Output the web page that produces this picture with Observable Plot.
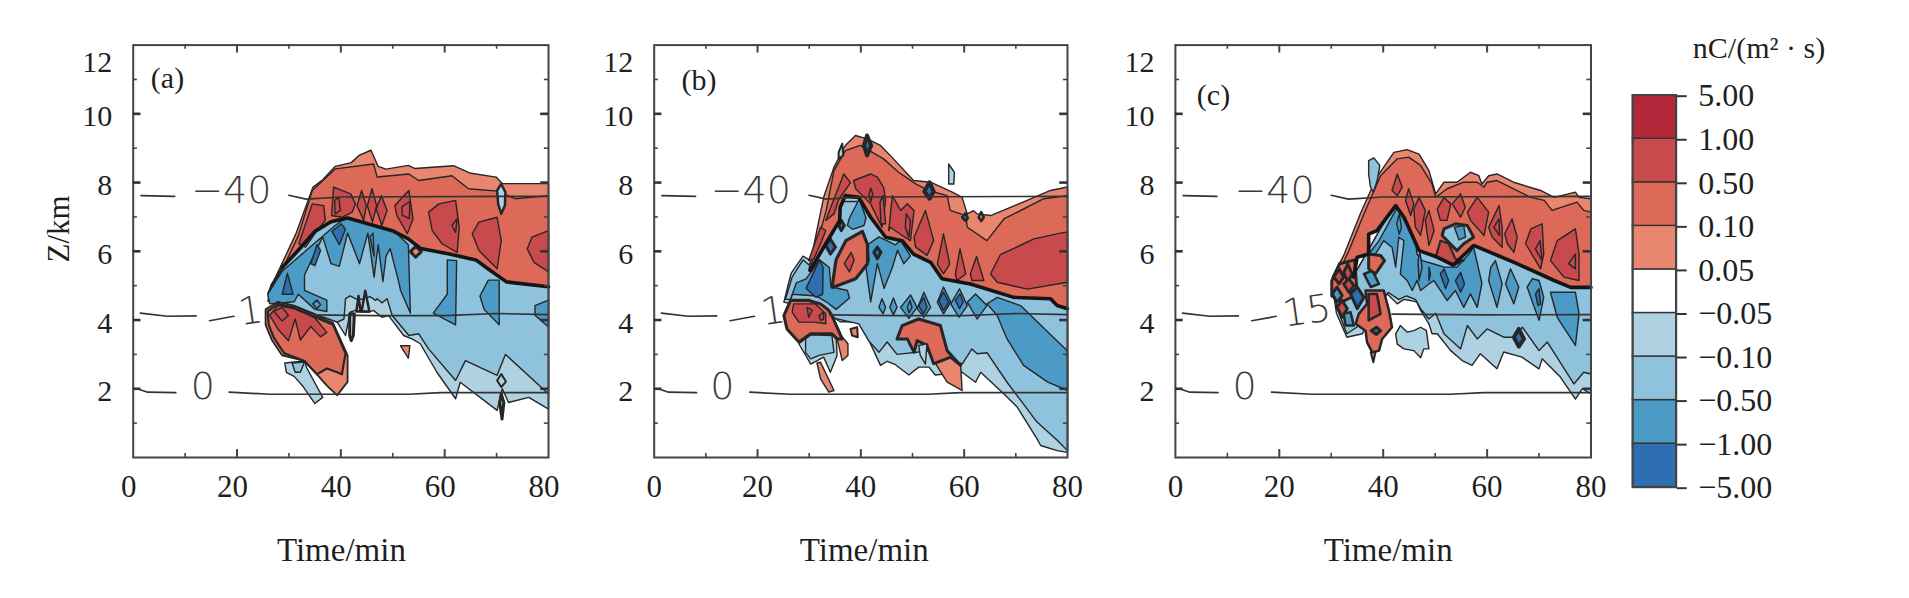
<!DOCTYPE html>
<html><head><meta charset="utf-8">
<script src="https://cdn.jsdelivr.net/npm/d3@7"></script>
<script src="https://cdn.jsdelivr.net/npm/@observablehq/plot@0.6"></script>
<style>html,body{margin:0;padding:0;background:#fff}#root{position:relative;width:1909px;height:598px;overflow:hidden}svg{position:absolute;top:0;background:transparent}</style>
</head><body><div id="root"></div>
<script>
// colour classes
const thresholds=[-5,-1,-0.5,-0.1,-0.05,0.05,0.1,0.5,1,5];
const classColors=["#2F6EB1","#2F6EB1","#4B9BC6","#8FC2DD","#AFD2E3","#FFFFFF","#E98670","#DD6A58","#C84A4D","#B2283A","#B2283A"];
const legendLabels=["−5.00","−1.00","−0.50","−0.10","−0.05","0.05","0.10","0.50","1.00","5.00"];
const legendValues=[-3,-0.75,-0.3,-0.07,0,0.07,0.3,0.75,3];
const P1=0.07,P2=0.3,P3=0.75,N1=-0.07,N2=-0.3,N3=-0.75,N4=-3;
// axis ticks
const xMajor=[20,40,60],xMinor=[10,30,50,70],yMajor=[2,4,6,8,10],yMinor=[1,3,5,7,9,11];
// isotherms (shared)
const iso40Left=[[1.5,7.62],[8,7.6]];
const iso40Right=[[30,7.63],[33.3,7.52],[40,7.58],[80,7.6]];
const iso15LeftA=[[1.4,4.2],[6.6,4.11],[12.1,4.12]];
const iso15LeftB=[[14.7,3.98],[19.4,4.11]];
const iso15Right=[[34,4.15],[47,4.13],[60,4.13],[70,4.19],[80,4.16]];
const iso15RightC=[[41.7,4.17],[60,4.15],[80,4.16]];
const iso0Left=[[1.2,1.98],[2.8,1.9],[8.2,1.89]];
const iso0Right=[[18.5,1.9],[26.3,1.84],[53,1.84],[59.3,1.89],[80,1.89]];

// ---------- panel (a) ----------
const aTop=[[28.3,5.53],[31.4,6.53],[34.6,7.86],[36.5,8.08],[38.9,8.47],[42,8.58],[43.6,8.8],[45.8,8.94],[47.2,8.47],[48.7,8.39],[53,8.5],[54.2,8.41],[61.7,8.49],[64.8,8.28],[69.9,8.16],[71.1,7.97],[80,7.97]];
const aTop2=[[28.9,5.53],[31.8,6.45],[34.5,7.77],[38.96,8.4],[46.3,8.54],[47,8.16],[53.1,8.25],[55,8.06],[61.4,8.2],[64.6,7.82],[70.1,7.75],[73.6,7.53],[80,7.62]];
const aZero=[[80,4.97],[71.9,5.11],[68,5.53],[66,5.75],[60.9,5.92],[55.4,6.08],[53,6.36],[49.9,6.6],[45.2,6.8],[41.3,6.97],[38.1,6.86],[35,6.58],[31.8,6.03],[28.7,5.53],[26,4.8]];
const aBlueTop=[[26,4.55],[26.5,5],[28.7,5.53],[31.8,6.03],[35,6.58],[38.1,6.86],[41.3,6.97],[45.2,6.8],[49.9,6.6],[53,6.36],[55.4,6.08],[60.9,5.92],[66,5.75],[68,5.53],[71.9,5.11],[80,4.97]];
const aNeg1Bottom=[[80,1.41],[76.2,1.75],[72.3,1.6],[71.1,2],[70.1,1.37],[63,2.19],[62.1,1.71],[58.5,2.48],[55.3,3.31],[53.7,3.45],[52.1,3.55],[49.2,4.13],[47.9,4.08],[46.3,4.28],[45.4,4.23],[44.1,4.23],[42.8,4.28],[41.8,4.23],[40.9,3.55],[39.3,3.94],[36.7,4.08],[31.9,4.37],[28,4.52]];
const aNeg2Bottom=[[80,1.85],[71.7,3],[70.1,2.39],[64,2.82],[62.1,2.24],[56.9,3.16],[55,3.6],[53.1,3.55],[49.9,4.13],[48.9,4.62],[47.9,4.5],[47,4.62],[46.7,4.57],[45.6,4.68],[44.1,4.6],[42.8,4.62],[41.8,4.7],[40.9,4.62],[40.6,4.03],[39.3,3.94],[36.7,4.08],[31.9,4.37],[28,4.52]];
const aNeg3Band=[[25.9,4.75],[28.7,5.42],[34.2,6.14],[38.9,6.75],[40.9,6.97],[45.2,6.8],[50.3,6.58],[53,6.19],[53.4,4.2],[51.5,4.86],[51.1,5.14],[49.5,6.08],[48.7,5.86],[48.1,5.12],[47.2,6.19],[46.4,5.25],[45.2,6.53],[43.6,5.64],[41.3,6.53],[39.7,5.56],[38.1,5.64],[36.5,6.42],[33,5.31],[33,4.86],[37.3,4.58],[37.3,4.25],[35,4.31],[31.8,4.75],[31,4.53],[26.3,4.47]];
const aDark1=[[28.7,4.75],[29.7,5.36],[30.8,4.75]];
const aDark2=[[34.2,5.64],[35.4,6.19],[36.1,6.03],[35,5.58]];
const aDark3=[[38.3,6.58],[40.1,6.8],[40.9,6.64],[39.7,6.19]];
const aFinger=[[45.6,6.42],[46.2,6.53],[46.4,5.86]];
const aMid1=[[60.5,5.75],[62.3,5.73],[62.1,3.86],[57.8,4.2],[60.5,4.75]];
const aMid2=[[66.8,4.7],[68.4,5.16],[70.5,5.16],[70.5,3.86],[67.6,4.31]];
const aMid3=[[77.4,4.42],[80,4.58],[80,3.8],[77.4,4.14]];
const aMid4=[[34.6,4.47],[35.4,4.58],[36.1,4.45],[35.4,4.33]];
const aSpikeA=[[41.7,4.18],[42.6,4.18],[42.4,3.55],[42,3.4],[41.7,3.55]];
const aSpikeB=[[44,4.25],[44.7,4.85],[45.5,4.25]];
const aSpikeC=[[43,4.25],[43.4,4.7],[43.8,4.25]];
const aR1=[[31.9,6.22],[34.5,7.38],[36.7,7.33],[37,6.9],[35.4,6.6],[33.2,6.12]];
const aR2=[[38.2,7.04],[38.6,7.87],[41.9,7.67],[42.8,7.38],[42.2,7.14],[40.2,6.99]];
const aR3=[[43.1,7.33],[44,7.77],[44.9,7.33],[44.4,6.9]];
const aR4=[[45.1,7.33],[46,7.82],[46.9,7.33],[46.1,6.85]];
const aR5=[[46.8,7.23],[47.8,7.62],[48.9,7.19],[47.9,6.75]];
const aR6=[[50.4,7.33],[53.1,7.77],[53.9,6.94],[52.8,6.51],[50.8,7.04]];
const aR7=[[56.9,7.14],[58.9,7.38],[62.1,7.48],[62.8,6.7],[62.4,5.97],[59.5,6.22],[57.6,6.6]];
const aR8=[[65.3,6.51],[66.6,6.85],[70.1,6.99],[70.9,6.31],[70.1,5.49],[66.6,6.02]];
const aR9=[[75.9,6.07],[76.8,6.41],[80,6.6],[80,5.4],[77.2,5.68]];
const aRi1=[[38.8,7.48],[39.6,7.57],[39.9,7.19],[38.9,7.09]];
const aRi2=[[51.8,7.3],[53.3,7.45],[53.2,6.95],[51.8,7.05]];
const aRi3=[[61.4,6.75],[62.4,6.95],[62.1,6.55]];
const aNotch=[[70.1,7.77],[70.9,7.96],[71.7,7.72],[71.6,7.33],[70.9,7.09],[70.3,7.38]];
const aDiamond=[[53.4,5.99],[54.4,6.14],[55.5,5.99],[54.4,5.83]];
const aLobe1=[[25.5,4.31],[27.9,4.53],[31,4.42],[35,4.14],[38.5,3.92],[41.3,2.97],[41.3,2.2],[39.3,1.81],[37.3,2.09],[35.4,2.42],[33,2.81],[28.7,2.97],[26.7,3.42],[25.5,3.86]];
const aLobe2=[[25.9,4.25],[27.9,4.47],[31,4.36],[35,4.09],[38.5,3.86],[40.9,3.03],[40.2,2.42],[39.3,2.48],[37.3,2.59],[35.4,2.42],[33,2.81],[29.1,3.03],[27.1,3.48],[26.1,3.86]];
const aLobe3=[[26.3,4.14],[27.9,4.42],[31,4.33],[35,4.06],[37.3,3.64],[36.1,3.51],[34.2,3.81],[32.2,3.42],[31.2,4.03],[29.9,3.4],[27.9,3.73]];
const aLobe4=[[27.1,4.25],[28.7,4.36],[29.9,4.14],[28.7,3.97]];
const aPatch=[[29.2,2.75],[33,2.81],[33.4,2.62],[36.5,1.75],[35,1.57],[32.6,2.09],[31,2.36],[29.5,2.48]];
const aPatchIn=[[30.6,2.75],[33,2.78],[32.2,2.48],[31.2,2.48]];
const aTriangle=[[51.5,3.25],[53.3,3.25],[53,2.89]];
const aDiamond2=[[70.1,2.24],[70.9,2.43],[71.8,2.21],[70.9,2.05]];
const aSpike2=[[70.9,1.85],[71.4,1.6],[71.05,1.12],[70.6,1.6]];

const layersA=[
 [aBlueTop.concat(aNeg1Bottom),N1],[aBlueTop.concat(aNeg2Bottom),N2],[aNeg3Band,N3],
 [aDark1,N4],[aDark2,N4],[aDark3,N4],[aFinger,N3],[aMid1,N3],[aMid2,N3],[aMid3,N3],[aMid4,N3],
 [aSpikeA,N1,3],[aSpikeB,N1,2.5],[aSpikeC,N1,2.5],
 [aTop.concat(aZero),P1],[aTop2.concat(aZero),P2],
 [aR1,P3],[aR2,P3],[aR3,P3],[aR4,P3],[aR5,P3],[aR6,P3],[aR7,P3],[aR8,P3],[aR9,P3],[aRi1,P3],[aRi2,P3],[aRi3,P3],
 [aNotch,N1,2.5],[aDiamond,P1,3],
 [aLobe1,P1,1.8],[aLobe2,P2,2.2],[aLobe3,P3],[aLobe4,P3],
 [aPatch,N1],[aPatchIn,N2],[aTriangle,P1],[aDiamond2,N1,2],[aSpike2,N1,3]
];
const zeroA=aZero.slice(0,-1);

// ---------- panel (b) ----------
const bTop=[[29.9,5.44],[32.8,7.57],[34.8,8.45],[37,9.08],[38.96,9.37],[41.2,9.27],[43.8,9.08],[46,8.74],[50.2,8.06],[53.5,8.01],[57.7,7.72],[59.6,7.57],[60.6,7.09],[61.8,7.18],[62.5,7.09],[65.1,7.04],[72.2,7.48],[76.7,7.77],[80,7.87]];
const bTop2=[[30.3,5.55],[33.3,7.2],[34.8,8.35],[37,8.93],[39.9,9.08],[44.4,8.69],[47.3,8.3],[50.6,7.96],[53.1,7.77],[56.7,7.62],[57.3,7.19],[60.3,7.04],[60.6,6.7],[64.4,6.31],[67.7,6.94],[75.4,7.53],[80,7.62]];
const bZero=[[80,4.33],[78,4.42],[76.7,4.62],[69.6,4.66],[61.2,5.05],[55.7,5.2],[53.5,5.68],[50.2,5.92],[48,6.31],[44.8,6.41],[41.9,6.99],[39.6,7.57],[37,7.62],[36,7.28],[35.9,6.9],[33.2,6.22],[30.2,5.44]];
const bBlue1=[[25.1,4.52],[26.5,5.36],[28.8,5.86],[30,5.75],[32,6.1],[35.8,7.58],[40.3,7.53],[41.9,6.99],[44.8,6.41],[48,6.31],[50.2,5.92],[53.5,5.68],[55.7,5.2],[61.2,5.05],[69.6,4.66],[76.7,4.62],[78,4.42],[80,4.33],[80,0.15],[78,0.2],[74.8,0.35],[74.1,0.54],[70.3,1.46],[67.7,1.85],[63.2,2.48],[62.2,2.19],[59.6,2.48],[54.4,2.4],[53.2,2.63],[51.2,2.63],[49.3,2.4],[46.7,2.7],[45.1,2.8],[43.8,2.68],[41.9,3.3],[39.9,3.94],[36,3.95],[33.5,4.2]];
const bBlue2=[[25.4,4.6],[26.7,5.25],[28.8,5.75],[30,5.6],[33,6.5],[35.8,7.45],[40,7.45],[41.9,6.99],[44.8,6.41],[48,6.31],[50.2,5.92],[53.5,5.68],[55.7,5.2],[61.2,5.05],[69.6,4.66],[76.7,4.62],[78,4.42],[80,4.33],[80,0.2],[78,0.5],[74.1,1.03],[68.3,2.19],[64.4,3.05],[62.5,3.02],[61.5,3.16],[59.6,2.72],[53,3.1],[47,3],[45.1,3.36],[43.5,3.06],[41.5,3.4],[39.6,3.89],[35,4.05],[33,4.3],[30,4.6]];
const bBand=[[64.4,4.47],[66.4,4.66],[70.9,4.42],[79.9,3.11],[80,3],[80,1.95],[76.1,2.2],[71.5,2.68],[68.3,3.45],[66.4,4.13]];
const bLeftMid=[[27.5,5.08],[29.4,5.2],[32,5.75],[33.9,5.53],[34.2,4.97],[37.4,4.86],[37.8,4.64],[35.2,4.31],[33.3,4.53],[31.3,4.7],[26.8,4.75],[26.2,4.53]];
const bLeftDark=[[29.4,4.92],[32,5.75],[32.7,5.53],[32.6,4.75],[31.3,4.66]];
const bTopMid=[[37.8,6.97],[39.7,7.53],[41,6.97],[40.6,6.75],[38.4,6.64],[37.4,6.75]];
const bFingers=[[41.3,6.19],[43.5,6.42],[46.7,6.19],[47.7,6.31],[49.6,5.86],[48.3,5.64],[47.1,6.03],[46.1,5.53],[44.5,4.92],[43.2,5.64],[41.9,4.53],[41,5.53],[41.6,5.75]];
const bD1=[[43.5,4.37],[44.1,4.62],[44.8,4.37],[44.3,4.18]];
const bD2=[[45.6,4.37],[46.3,4.64],[47,4.37],[46.3,4.15]];
const bD3=[[47.7,4.37],[49.6,4.73],[50.9,4.37],[49.3,4.05]];
const bD4=[[50.9,4.33],[52.2,4.81],[53.5,4.37],[52.2,4.08]];
const bD5=[[54.8,4.52],[56,4.96],[57.4,4.52],[56,4.18]];
const bD6=[[57.4,4.47],[59.1,4.91],[60.6,4.42],[59,4.08]];
const bD7=[[60.6,4.52],[62.2,4.76],[64.4,4.42],[62.5,4.03]];
const bDk1=[[51.2,4.42],[52.2,4.66],[52.8,4.37],[52.1,4.18]];
const bDk2=[[55.1,4.57],[56,4.81],[57,4.52],[56,4.28]];
const bDk3=[[58.3,4.57],[59.2,4.76],[59.8,4.52],[59.1,4.33]];
const bDi=[[49,4.37],[49.5,4.57],[49.9,4.37],[49.3,4.21]];
const bB1=[[54.8,5.63],[56,6.51],[57.2,5.63],[56,5.34]];
const bB2=[[58.3,5.34],[59.2,6.07],[60.3,5.34],[58.6,5.15]];
const bB3=[[61.2,5.34],[62.4,5.85],[63.8,5.15],[61.5,5.15]];
const bB4=[[50.3,6.41],[52.5,7.19],[54.1,6.31],[52.8,5.88],[50.6,6.12]];
const bB5=[[45.4,6.6],[46.1,7.62],[47.7,7.19],[49,7.38],[50.3,7.19],[49.6,6.31],[48,6.46],[45.7,6.7]];
const bB6=[[38.6,8.06],[41.9,8.25],[43.2,8.16],[44.4,7.86],[44.8,7.48],[44.1,6.7],[42.5,7.19],[41.9,7.38],[39,7.82]];
const bB7=[[33.2,6.9],[36.7,8.25],[38,8],[35.7,7.5],[34.8,7.09]];
const bB8=[[29.9,5.73],[32.2,6.7],[33.2,6.6],[32.2,6.22],[30.9,5.78]];
const bB9=[[65.1,5.34],[67,5.9],[73.5,6.36],[79.3,6.55],[80,6.55],[80,5.1],[72.2,4.9],[66.4,5.1]];
const bBi1=[[41.9,7.84],[42.3,7.67],[41.9,7.43],[41.6,7.67]];
const bBi2=[[48.8,7.09],[49.6,6.9],[49.3,6.41],[48.6,6.7]];
const bBi3=[[43.7,7.43],[44.3,7.62],[44.8,6.8],[43.9,6.8]];
const bMidBlob=[[34.5,5.03],[35.2,5.75],[37.1,6.31],[40.3,6.58],[41.3,6.19],[41.3,5.64],[39,5.2],[34.5,4.95]];
const bMidBlobIn=[[36.8,5.64],[38.1,5.97],[38.7,5.75],[37.8,5.4]];
const bLobe=[[25.1,4.13],[26.4,4.57],[29.9,4.57],[32.2,4.47],[33.8,4.28],[34.4,4.13],[36.4,3.45],[35.4,3.45],[34.4,3.6],[30.3,3.6],[28,3.36],[25.7,3.74]];
const bLobeTri=[[35.1,3.74],[37.5,3.31],[37.5,2.97],[36.4,2.82],[35.4,3.45]];
const bLobeIn=[[26.7,4.23],[27,4.47],[31.2,4.47],[33.2,4.18],[33.2,3.89],[30.9,3.94],[28,3.94]];
const bLobeI1=[[31.9,4.13],[32.8,4.23],[32.8,4.03],[32.2,3.99]];
const bLobeI2=[[29.6,4.37],[30.6,4.28],[29.9,4.08]];
const bBoxOut=[[28,3.31],[30.3,2.72],[32.8,2.92],[34.1,2.48],[35.4,2.97],[35.2,3.55],[30.3,3.57]];
const bBoxIn=[[29.3,3.45],[30.3,3.57],[34.4,3.55],[34.8,3.06],[31.9,2.97],[30.3,2.87],[29.3,3.06]];
const bSpike=[[31.5,2.75],[32.2,2.77],[34.8,1.95],[33.8,1.9],[32.2,2.29]];
const bSmall=[[38,3.74],[39.3,3.79],[39.4,3.5],[38.3,3.55]];
const bMidLobe=[[47,3.45],[48,3.84],[51.2,4.03],[55.4,3.84],[56.7,3.11],[59.3,2.68],[57.4,2.92],[54.1,2.73],[52.8,3.26],[50.9,3.4],[50.3,3.06],[49,3.45]];
const bMidLobeLow=[[54.1,2.82],[57.4,2.92],[59.3,2.73],[59.6,1.95],[56.7,2.19]];
const bMidFinger=[[51.2,3.26],[52.8,3.31],[52.5,2.72],[51.5,2.97]];
const bBlk1=[[40.6,9.08],[41.2,9.37],[42,9.08],[41.2,8.79]];
const bBlk2=[[35.7,8.88],[36.4,9.13],[36.6,8.79],[35.7,8.69]];
const bBlk3=[[52.3,7.74],[53.3,8.01],[54.1,7.74],[53.3,7.53]];
const bBlk4=[[59.6,6.99],[60.3,7.11],[60.7,6.97],[60.3,6.88]];
const bBlk5=[[62.8,6.99],[63.3,7.14],[63.8,6.99],[63.3,6.88]];
const bBlk6=[[42.5,5.97],[43.2,6.12],[43.9,5.97],[43.2,5.78]];
const bBlk7=[[33.2,6.17],[34.1,6.36],[35.1,6.12],[34.1,5.92]];
const bBlk8=[[35.7,6.75],[36.2,6.9],[36.8,6.75],[36.2,6.6]];
const bIso=[[57,8.54],[58.1,8.3],[58,7.96],[57,7.96]];

const layersB=[
 [bBlue1,N1],[bBlue2,N2],[bBand,N3],[bLeftMid,N3],[bLeftDark,N4],[bTopMid,N3],[bFingers,N3],
 [bD1,N3],[bD2,N3],[bD3,N3],[bD4,N3],[bD5,N3],[bD6,N3],[bD7,N3],[bDk1,N4],[bDk2,N4],[bDk3,N4],[bDi,N3],
 [bTop.concat(bZero),P1],[bTop2.concat(bZero),P2],
 [bB1,P3],[bB2,P3],[bB3,P3],[bB4,P3],[bB5,P3],[bB6,P3],[bB7,P3],[bB8,P3],[bB9,P3],[bBi1,P3],[bBi2,P3],[bBi3,P3],
 [bMidBlob,P2,3.2],[bMidBlobIn,P3],
 [bBoxOut,N1],[bBoxIn,N2],[bLobeTri,P1],[bLobe,P2,3],[bLobeIn,P3],[bLobeI1,P3],[bLobeI2,P3],[bSpike,P1],[bSmall,P1,2],
 [bMidLobeLow,P1],[bMidLobe,P2,3],[bMidFinger,N1],
 [bBlk1,N4,4],[bBlk2,N1,2],[bBlk3,N4,4],[bBlk4,N4,2.5],[bBlk5,P1,2.5],[bBlk6,N4,3],[bBlk7,N4,3],[bBlk8,N4,3],[bIso,N1]
];
const zeroB=bZero;

// ---------- panel (c) ----------
const cTop=[[30.2,5.25],[32.4,5.88],[35.6,7.09],[37.6,7.77],[39.2,8.25],[42.05,8.88],[44.6,8.96],[46.9,8.83],[48.8,8.35],[50.1,7.67],[51.7,8.01],[54.2,8.01],[56.8,8.3],[58.4,8.2],[59,7.96],[60.3,8.2],[61.9,8.25],[65.1,8.01],[70.3,7.77],[72.9,7.57],[77,7.72],[77.7,7.57],[80,7.53]];
const cTop2=[[31,5.25],[33.4,6.02],[36.3,7.09],[39.5,8.2],[42.7,8.69],[44.9,8.74],[47.2,8.5],[49.4,7.96],[50.1,7.57],[52.3,7.82],[55.5,8.01],[58.1,8.01],[59.4,7.87],[60,8.01],[61.9,8.06],[68.4,7.57],[71,7.48],[72.5,7.19],[77.3,7.43],[78.6,7.19],[80,7.14]];
const cZero=[[80,4.95],[76.1,4.95],[72.9,5.15],[65.2,5.68],[57.4,6.17],[53.5,5.6],[50.1,5.85],[46.9,6.02],[44,6.99],[42.4,7.33],[38.8,6.6],[37.2,6.5],[37.2,5.92],[35,5.83],[34.3,5.25]];
const cBlueTop=[[30.5,4.7],[34,5.2],[37,6],[40,6.8],[42.4,7.5],[46,6.2],[51,5.8],[57.4,6.17],[65.2,5.68],[72.9,5.15],[76.1,4.95],[80,4.95]];
const cNeg1Bottom=[[80,1.85],[78.3,2],[77,1.7],[74.1,2.34],[70.6,2.87],[70,2.58],[66.7,2.92],[63.2,3.07],[61.9,2.58],[58.7,3.02],[57.1,2.68],[55.2,2.82],[53,3.11],[50.4,3.6],[49.4,3.6],[48.8,3.89],[47.2,4.28],[46.5,4.52],[45.2,4.57],[44,4.6],[42.7,4.47],[40.8,4.76],[38,4.2],[36,3.6],[33,3.5],[31,4.2]];
const cNeg2Bottom=[[80,2.43],[78.6,2.48],[76.7,2.14],[71.6,3.36],[70,3.11],[66.8,3.79],[65.1,3.5],[63.2,3.5],[60,3.74],[58.1,3.45],[56.2,3.84],[54.9,3.16],[51.7,3.6],[50.1,4.2],[48.8,4.03],[47.2,4.33],[46.2,4.6],[44.5,4.7],[43,4.6],[41,4.8],[38,4.4],[36,3.9],[33,3.6],[31.5,4.2]];
const cPatch=[[42.4,3.6],[43.3,3.84],[44.6,3.65],[45.9,3.69],[47.2,3.79],[48.3,3.7],[48.8,3.16],[47.8,3.16],[47.2,2.9],[45.9,3.11],[44,3.16],[42.7,3.3]];
const cMain=[[37.2,5.92],[39.2,6.31],[42.7,7.28],[44.6,6.8],[46.2,6.31],[46.5,5.92],[47.5,5.73],[49.75,5.63],[51.7,5.54],[54.2,5.54],[56.5,5.92],[57.4,6.12],[59,5.07],[58.1,4.37],[56.8,4.76],[55.5,4.37],[53.9,4.86],[52.3,4.57],[49.75,5.15],[48.8,5.05],[47.2,4.86],[46.5,5.15],[45.6,4.86],[44.6,5.15],[43.3,5.34],[44,6.31],[43,6.41],[42.4,5.54],[41.7,6.12],[40.1,6.31],[38.5,5.92]];
const cB1=[[60.3,5.15],[61.9,4.37],[62.9,5.05],[61.6,5.73],[60.7,5.54]];
const cB2=[[63.55,5.05],[65.15,4.47],[66.1,4.96],[64.5,5.49]];
const cB3=[[67.7,4.96],[70,3.99],[70.9,4.66],[70,5.15],[68.7,5.2]];
const cB4=[[72.2,4.81],[77,4.81],[77.7,4.18],[77,3.26],[73.5,4.08]];
const cDk1=[[69.3,4.76],[70,4.91],[70.3,4.47],[69.8,4.42]];
const cDk2=[[51,5.34],[51.7,5.49],[52.6,5.15],[52,4.91]];
const cDk3=[[53.9,5.15],[54.9,5.39],[55.65,5.05],[54.9,4.81]];
const cIn1=[[46.7,5.73],[47.05,5.97],[47.5,5.54],[46.9,5.15]];
const cIn2=[[48.8,5.54],[49.1,5.34],[48.8,5.15]];
const cIn3=[[42.6,6.8],[43.1,7.09],[43.5,6.7],[43.1,6.5]];
const cPocket=[[51.7,6.65],[53.9,6.8],[56.2,6.75],[57.4,6.41],[55.5,6.22],[54.2,6.02],[52.3,6.31],[51.35,6.46]];
const cPocketIn=[[53.7,6.7],[55.5,6.75],[55.85,6.41],[54.6,6.33]];
const cColumn=[[37.2,8.64],[38.2,8.72],[39.35,8.5],[38.85,8.06],[38.1,7.72],[37.55,7.87],[37.2,8.25]];
const cR1=[[72.2,5.73],[73.5,6.31],[77,6.65],[77.7,5.92],[77.7,5.15],[74.8,5.25]];
const cR2=[[67.4,6.22],[68.4,6.65],[70.6,6.8],[70.9,5.92],[70.3,5.49]];
const cR3=[[63.4,6.51],[64.8,6.94],[65.8,6.41],[65.15,5.97],[63.9,6.22]];
const cR4=[[60.3,6.7],[62.3,7.33],[62.9,6.7],[62.9,6.12],[61,6.41]];
const cR5=[[56.2,7.14],[58.1,7.57],[60.3,7.14],[59.4,6.46],[56.8,6.9]];
const cR6=[[53.3,7.38],[54.9,7.67],[55.8,7.28],[54.9,6.99]];
const cR7=[[50.4,7.23],[51.7,7.57],[53,7.38],[52.3,6.9],[51,6.9]];
const cR8=[[48.1,6.9],[48.8,7.19],[49.8,6.6],[48.8,6.17]];
const cR9=[[45.9,7.23],[46.9,7.57],[48.1,7.19],[47.2,6.46],[46.2,6.7]];
const cR10=[[44.3,7.48],[44.9,7.82],[45.9,7.38],[45.3,7.04]];
const cR11=[[41.7,7.77],[42.7,8.25],[43.65,7.87],[42.7,7.62]];
const cR12=[[50.1,5.83],[51.03,6.31],[52.6,6.22],[53.9,5.78],[55.5,5.73],[53.6,5.59]];
const cRi1=[[75.7,5.64],[77,5.92],[77,5.49]];
const cRi2=[[69.3,6.07],[70.2,6.31],[70.6,5.73]];
const cRi3=[[61.3,6.7],[62.3,6.94],[62.4,6.46]];
const cLeftRed=[[30.1,5.14],[31.6,5.64],[34.5,5.75],[35,4.75],[32.1,4.53],[30.1,4.7]];
const cCl1=[[30.5,5.25],[31.5,5.49],[32.4,5.25],[31.5,5.05]];
const cCl2=[[32.4,5.39],[33.2,5.63],[34,5.34],[33.2,5.1]];
const cCl3=[[30.2,4.76],[31.1,4.96],[32.1,4.71],[31.1,4.52]];
const cCl4=[[31.1,4.37],[32.1,4.57],[33.1,4.33],[32.1,4.08]];
const cCl5=[[32.4,5.05],[33.4,5.2],[34.35,5],[33.4,4.81]];
const cCl6=[[33.7,4.76],[35,4.96],[36.3,4.66],[35,4.33]];
const cCl7=[[36.3,5.34],[37.9,5.44],[39.2,5.05],[37.6,4.96]];
const cCl8=[[32.4,4.18],[33.7,4.23],[34.35,3.84],[32.75,3.84]];
const cLowRed=[[36.6,4.86],[40.1,4.86],[41.1,4.28],[41.7,3.79],[39.8,3.45],[39.2,3.11],[37.9,3.06],[36.9,3.35],[36.6,3.69],[34.7,3.89],[35.3,4.18],[36.9,4.47]];
const cLowRedIn=[[37.2,4.76],[38.8,4.76],[39.5,4.18],[37.2,3.99]];
const cLowDiamond=[[37.7,3.69],[38.7,3.79],[39.5,3.69],[38.7,3.58]];
const cLowSpike=[[37.6,3.06],[38.1,2.77],[38.5,3.06]];
const cThick=[[37.2,5.92],[39.5,5.88],[40.25,5.73],[38.5,5.34],[37.2,5.49]];
const cBlack=[[65.15,3.5],[66.1,3.74],[67.1,3.45],[66.1,3.23]];

const layersC=[
 [cBlueTop.concat(cNeg1Bottom),N1],[cBlueTop.concat(cNeg2Bottom),N2],[cPatch,N1],[cMain,N3],
 [cB1,N3],[cB2,N3],[cB3,N3],[cB4,N3],[cDk1,N4],[cDk2,N4],[cDk3,N4],[cIn1,N3],[cIn2,N3],[cIn3,N3],
 [cTop.concat(cZero),P1],[cTop2.concat(cZero),P2],
 [cR1,P3],[cR2,P3],[cR3,P3],[cR4,P3],[cR5,P3],[cR6,P3],[cR7,P3],[cR8,P3],[cR9,P3],[cR10,P3],[cR11,P3],[cRi1,P3],[cRi2,P3],[cRi3,P3],
 [cPocket,N2,3],[cPocketIn,N3],[cR12,P3,2],[cColumn,N2],
 [cLeftRed,P2,3],[cCl1,P3,3],[cCl2,P3,3],[cCl3,N3,3],[cCl4,P3,3],[cCl5,P3,3],[cCl6,N4,3],[cCl7,N3,2.5],[cCl8,N3,2.5],
 [cLowRed,P2,2.5],[cLowRedIn,P3,2.5],[cLowDiamond,N4,3],[cLowSpike,P2,2],[cThick,P2,3],[cBlack,N4,4]
];
const zeroC=cZero;

const serif="'Liberation Serif','Times New Roman',serif";
const ink="#1f1f1f", frameInk="#444";
const isoStyle={x:d=>d[0],y:d=>d[1],stroke:"#333",strokeWidth:1.7};
const isoFont={fontFamily:"'DejaVu Sans'",fontWeight:200,fontSize:38,fill:"#3a3a3a"};

function panel({left,width,ml,mr,layers,zero,letter,letterX,letterY,label40X,label0X,label15,label15X,iso15R,tickDx,timeDx,showZ}){
  const m=[];
  // isotherm labels sit under the contours
  m.push(Plot.text(["−40"],{x:label40X,y:7.77,text:d=>d,...isoFont}));
  m.push(Plot.text(["0"],{x:label0X,y:2.06,text:d=>d,...isoFont}));
  m.push(Plot.text([label15],{x:label15X,y:4.25,text:d=>d,rotate:-8,...isoFont}));
  layers.forEach(([pts,level,sw])=>m.push(Plot.line(pts,{x:d=>d[0],y:d=>d[1],fill:()=>level,stroke:"#262626",strokeWidth:sw||1.4,curve:"linear-closed",strokeLinejoin:"round"})));
  m.push(Plot.line(zero,{x:d=>d[0],y:d=>d[1],stroke:"#151515",strokeWidth:3.6,strokeLinejoin:"round"}));
  [iso40Left,iso40Right,iso15LeftA,iso15LeftB,iso15R,iso0Left,iso0Right].forEach(s=>m.push(Plot.line(s,isoStyle)));
  m.push(Plot.frame({stroke:frameInk,strokeWidth:2}));
  // inward ticks
  m.push(Plot.ruleX(xMajor,{y1:0,y2:0.23,stroke:frameInk,strokeWidth:2}),Plot.ruleX(xMajor,{y1:12,y2:11.77,stroke:frameInk,strokeWidth:2}));
  m.push(Plot.ruleX(xMinor,{y1:0,y2:0.12,stroke:frameInk,strokeWidth:1.6}),Plot.ruleX(xMinor,{y1:12,y2:11.88,stroke:frameInk,strokeWidth:1.6}));
  m.push(Plot.ruleY(yMajor,{x1:0,x2:1.5,stroke:"#333",strokeWidth:2.6}),Plot.ruleY(yMajor,{x1:80,x2:78.5,stroke:"#333",strokeWidth:2.6}));
  m.push(Plot.ruleY(yMinor,{x1:0,x2:0.8,stroke:frameInk,strokeWidth:1.6}),Plot.ruleY(yMinor,{x1:80,x2:79.2,stroke:frameInk,strokeWidth:1.6}));
  // axes
  m.push(Plot.axisX({ticks:[0,20,40,60,80],tickFormat:d=>String(d),tickSize:0,tickPadding:17,dx:tickDx,label:null,fontSize:31}));
  m.push(Plot.text(["Time/min"],{x:40,y:0,dx:timeDx,dy:92.5,text:d=>d,fontSize:33,fontFamily:serif,fill:ink}));
  m.push(Plot.axisY({ticks:yMajor,tickFormat:d=>String(d),tickSize:0,tickPadding:21,dy:3,label:null,fontSize:30}));
  m.push(Plot.axisY({ticks:[12],tickFormat:d=>String(d),tickSize:0,tickPadding:21,dy:17,label:null,fontSize:30}));
  m.push(Plot.text([letter],{x:letterX,y:letterY,text:d=>d,fontSize:30,fontFamily:serif,fill:ink}));
  if(showZ) m.push(Plot.text(["Z/km"],{x:0,y:6.65,dx:-74,text:d=>d,rotate:-90,fontSize:31,fontFamily:serif,fill:ink}));
  const svg=Plot.plot({width,height:598,marginLeft:ml,marginRight:mr,marginTop:44.6,marginBottom:141,
    x:{domain:[0,80]},y:{domain:[0,12]},
    color:{type:"threshold",domain:thresholds,range:classColors},
    style:{fontFamily:serif,color:ink,background:"transparent",overflow:"visible"},marks:m});
  svg.style.left=left+"px";
  document.getElementById("root").appendChild(svg);
}

panel({left:0,width:600,ml:132.7,mr:52,layers:layersA,zero:zeroA,letter:"(a)",letterX:6.6,letterY:11.03,label40X:18.9,label0X:13.4,label15:"1",label15X:22.6,iso15R:iso15Right,tickDx:-4.5,timeDx:0.6,showZ:true});
panel({left:600,width:520,ml:53.7,mr:53,layers:layersB,zero:zeroB,letter:"(b)",letterX:8.67,letterY:10.97,label40X:18.7,label0X:13.2,label15:"1",label15X:23,iso15R:iso15Right,tickDx:0,timeDx:3.4});
panel({left:1120,width:520,ml:54.9,mr:49.5,layers:layersC,zero:zeroC,letter:"(c)",letterX:7.33,letterY:10.54,label40X:19.1,label0X:13.3,label15:"15",label15X:25.3,iso15R:iso15RightC,tickDx:0,timeDx:5});

// legend
const legend=Plot.plot({width:289,height:598,marginLeft:12.3,marginRight:233.3,marginTop:94.7,marginBottom:111.3,
  x:{domain:[0,1],axis:null},y:{domain:[0,9]},
  color:{type:"threshold",domain:thresholds,range:classColors},
  style:{fontFamily:serif,color:ink,background:"transparent",overflow:"visible"},
  marks:[
    Plot.rect(legendValues,{x1:0,x2:1,y1:(d,i)=>i,y2:(d,i)=>i+1,fill:d=>d,stroke:"#333",strokeWidth:1.4}),
    Plot.frame({stroke:frameInk,strokeWidth:2}),
    Plot.axisY({anchor:"right",ticks:d3.range(10),tickFormat:i=>legendLabels[i],tickSize:10,tickPadding:12,dy:1,label:null,stroke:"#333",strokeWidth:2,fontSize:32}),
    Plot.text(["nC/(m² · s)"],{x:0,y:9,dx:60,dy:-47,textAnchor:"start",text:d=>d,fontSize:30,fontFamily:serif,fill:ink})
  ]});
legend.style.left="1620px";
document.getElementById("root").appendChild(legend);
</script></body></html>
